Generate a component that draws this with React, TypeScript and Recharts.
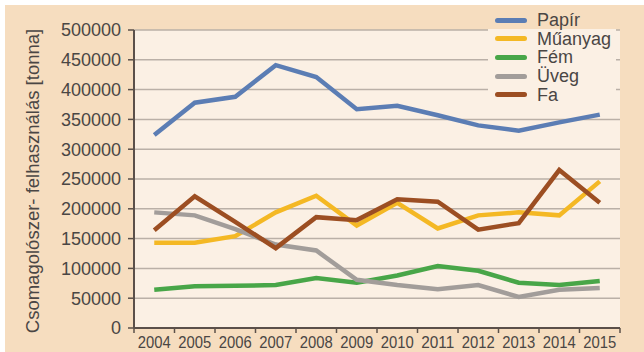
import { LineChart, Line, CartesianGrid, XAxis, YAxis, Legend } from 'recharts'

const years = ['2004', '2005', '2006', '2007', '2008', '2009', '2010', '2011', '2012', '2013', '2014', '2015']
const papir = [324000, 378000, 388000, 441000, 421000, 367000, 373000, 357000, 340000, 331000, 345000, 358000]
const muanyag = [143000, 143000, 154000, 194000, 222000, 172000, 210000, 167000, 189000, 194000, 189000, 246000]
const fem = [64000, 70000, 71000, 72000, 84000, 76000, 88000, 104000, 96000, 76000, 72000, 79000]
const uveg = [194000, 189000, 166000, 140000, 130000, 81000, 72000, 65000, 72000, 52000, 64000, 67000]
const fa = [164000, 221000, 178000, 134000, 186000, 181000, 216000, 212000, 165000, 176000, 265000, 210000]
const yTicks = [0, 50000, 100000, 150000, 200000, 250000, 300000, 350000, 400000, 450000, 500000]

const series = [
  { key: 'papir', name: 'Papír', color: '#5b7db4', values: papir },
  { key: 'muanyag', name: 'Műanyag', color: '#f4b824', values: muanyag },
  { key: 'fem', name: 'Fém', color: '#48a648', values: fem },
  { key: 'uveg', name: 'Üveg', color: '#a29d9a', values: uveg },
  { key: 'fa', name: 'Fa', color: '#9c4e22', values: fa },
]

const data = years.map((year, i) => {
  const row: Record<string, string | number> = { year }
  series.forEach((s) => (row[s.key] = s.values[i]))
  return row
})

const W = 644
const H = 352
const MARGIN = { top: 30, right: 24, bottom: 0, left: 0 }
const Y_W = 134
const X_H = 24
const STEP = (W - MARGIN.right - Y_W) / years.length
const AXIS = '#5b504a'
const TEXT = '#4a4644'

// year label plus a tick mark at the category boundaries
function XTick(props: any) {
  const { x, y, payload, index } = props
  const half = STEP / 2
  const top = y - 8
  return (
    <g>
      <line x1={x - half} x2={x - half} y1={top} y2={top + 5} stroke={AXIS} strokeWidth={1.5} />
      {index === years.length - 1 && (
        <line x1={x + half} x2={x + half} y1={top} y2={top + 5} stroke={AXIS} strokeWidth={1.5} />
      )}
      <text
        x={x}
        y={y + 12}
        textAnchor="middle"
        fill={TEXT}
        fontSize={17}
        textLength={33}
        lengthAdjust="spacingAndGlyphs"
      >
        {payload.value}
      </text>
    </g>
  )
}

function LegendBox() {
  return (
    <div style={{ background: 'linear-gradient(to bottom, transparent 18px, #fbf0e4 18px)', paddingLeft: 7 }}>
      {series.map((s) => (
        <div key={s.key} style={{ display: 'flex', alignItems: 'center', height: 18.6 }}>
          <span style={{ display: 'inline-block', width: 32, height: 5, borderRadius: 3, background: s.color, marginRight: 10 }} />
          <span style={{ fontSize: 18, color: TEXT, lineHeight: '18px' }}>{s.name}</span>
        </div>
      ))}
    </div>
  )
}

export default function App() {
  return (
    <div style={{ position: 'absolute', left: 0, top: 0, width: W, height: H, background: '#ffffff', fontFamily: "'Liberation Sans', Arial, sans-serif" }}>
      <div style={{ position: 'absolute', left: 5, top: 5, width: W - 5, height: H - 5, background: '#f6ddbf' }} />
      <div style={{ position: 'absolute', left: 0, top: 0 }}>
        <LineChart width={W} height={H} data={data} margin={MARGIN}>
          <CartesianGrid vertical={false} fill="#fbf0e4" stroke="#bab0a7" strokeWidth={1.5} yAxisId="left" />
          <XAxis
            dataKey="year"
            height={X_H}
            padding={{ left: STEP / 2, right: STEP / 2 }}
            axisLine={{ stroke: AXIS, strokeWidth: 2 }}
            tickLine={false}
            tick={<XTick />}
            interval={0}
          />
          <XAxis xAxisId="top" dataKey="year" orientation="top" height={0} tick={false} tickLine={false} axisLine={{ stroke: AXIS, strokeWidth: 2 }} />
          <YAxis
            yAxisId="left"
            width={Y_W}
            domain={[0, 500000]}
            ticks={yTicks}
            interval={0}
            tickSize={6}
            tickMargin={7}
            axisLine={{ stroke: AXIS, strokeWidth: 2 }}
            tickLine={{ stroke: AXIS, strokeWidth: 1.5 }}
            tick={{ fill: TEXT, fontSize: 18 }}
            label={{
              value: 'Csomagolószer- felhasználás [tonna]',
              angle: -90,
              position: 'insideLeft',
              dx: 27,
              dy: 2,
              style: { textAnchor: 'middle', fill: TEXT, fontSize: 18.5 },
            }}
          />
          <YAxis yAxisId="right" orientation="right" width={0} domain={[0, 500000]} tick={false} tickLine={false} axisLine={{ stroke: AXIS, strokeWidth: 2 }} />
          {series.map((s) => (
            <Line
              key={s.key}
              yAxisId="left"
              type="linear"
              dataKey={s.key}
              name={s.name}
              stroke={s.color}
              strokeWidth={4.5}
              dot={false}
              activeDot={false}
              isAnimationActive={false}
            />
          ))}
          <Legend
            layout="vertical"
            align="center"
            verticalAlign="middle"
            content={<LegendBox />}
            wrapperStyle={{ position: 'absolute', left: 488, top: 11, width: 128, height: 'auto', margin: 0 }}
          />
        </LineChart>
      </div>
    </div>
  )
}
